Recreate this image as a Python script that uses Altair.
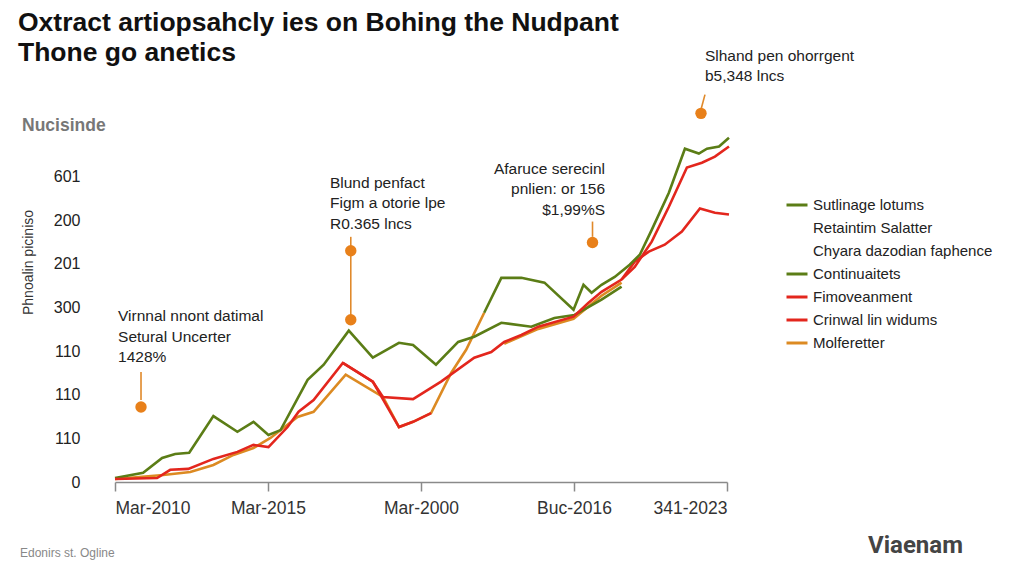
import altair as alt
import pandas as pd

# ---------------- data ----------------
series_names = ["Sutlinage lotums", "Retaintim Salatter", "Chyara dazodian faphence",
                "Continuaitets", "Fimoveanment", "Crinwal lin widums", "Molferetter"]
series_colors = ["#5b7d16", "transparent", "transparent", "#5b7d16", "#e3261d", "#e3261d", "#dc8a22"]

x_tick_labels = ["Mar-2010", "Mar-2015", "Mar-2000", "Buc-2016", "341-2023"]
y_tick_labels = ["0", "110", "110", "110", "300", "201", "200", "601"]

title_lines = ["Oxtract artiopsahcly ies on Bohing the Nudpant", "Thone go anetics"]

# Sutlinage lotums (green, early hump)
sut_t = [0, 1.84, 3.08, 3.93, 4.85, 6.43, 8.0, 9.05, 10.03, 10.82, 12.59, 13.64, 15.28, 16.85,
         18.56, 19.48, 20.98, 22.43, 23.48, 25.25, 27.21, 28.72, 30.03, 31.8, 33.11]
sut_v = [9, 21, 55, 64, 67, 151, 115, 138, 108, 119, 234, 269, 347, 285,
         319, 314, 269, 321, 333, 365, 356, 376, 383, 418, 448]

# Continuaitets (green, upper)
con_t = [24.13, 25.25, 26.56, 28.07, 29.97, 30.62, 31.15, 31.8, 32.66, 33.64, 34.3, 35.08,
         36.2, 37.25, 38.16, 38.69, 39.48, 40.13]
con_v = [388, 468, 468, 457, 395, 452, 434, 452, 470, 498, 521, 578,
         663, 764, 753, 764, 769, 789]

# Fimoveanment (red, main)
fim_t = [0, 2.75, 3.61, 4.79, 6.43, 8.0, 9.05, 10.03, 11.28, 12.0, 12.98, 14.89, 16.85, 17.51,
         19.48, 21.31, 23.48, 24.59, 25.44, 26.56, 27.67, 29.97, 30.95, 31.8, 33.11, 33.97,
         35.08, 36.2, 37.38, 38.36, 39.21, 40.13]
fim_v = [7, 9, 28, 30, 53, 69, 85, 80, 126, 161, 188, 273, 230, 195,
         190, 230, 285, 298, 321, 337, 356, 379, 411, 436, 464, 493,
         551, 631, 721, 732, 746, 769]

# Crinwal lin widums (red, dip + lower upper branch)
cri1_t = [14.89, 16.85, 18.56, 19.48, 20.66]
cri1_v = [273, 230, 126, 138, 158]
cri2_t = [33.11, 33.97, 34.89, 35.93, 37.05, 38.23, 39.21, 40.13]
cri2_v = [464, 505, 528, 544, 574, 627, 617, 613]

# Molferetter (orange)
mol1_t = [0, 3.15, 4.92, 6.43, 7.74, 9.05, 10.16, 11.93, 12.98, 15.08, 17.51, 18.56, 19.48,
          20.66, 21.97, 22.95, 24.13]
mol1_v = [7, 16, 23, 39, 62, 78, 101, 149, 161, 246, 195, 126, 138,
          158, 250, 303, 388]
mol2_t = [25.44, 27.67, 29.97, 31.8, 33.11]
mol2_v = [317, 351, 374, 427, 457]

# callouts (data units)
stem_t = [1.70, 15.41, 31.21, 38.56]
stem_t2 = [1.70, 15.41, 31.21, 38.3]
stem_v = [252, 562, 597, 888]
stem_v2 = [188, 372, 562, 854]
dot_t = [1.70, 15.41, 15.41, 31.21, 38.3]
dot_v = [172, 530, 372, 549, 845]

note_texts = ["Virnnal nnont datimal\nSetural Uncerter\n1428%",
              "Blund penfact\nFigm a otorie lpe\nR0.365 lncs",
              "Afaruce serecinl\npnlien: or 156\n$1,99%S",
              "Slhand pen ohorrgent\nb5,348 lncs"]
note_t = [0.2, 14.05, 32.03, 38.56]
note_v = [369, 675, 707, 966]
note_align = ["left", "left", "right", "left"]

# ---------------- build ----------------
W, H = 612, 349
FONT = "Liberation Sans"

segments = [
    ("mol2", "Molferetter", mol2_t, mol2_v),
    ("mol1", "Molferetter", mol1_t, mol1_v),
    ("sut", "Sutlinage lotums", sut_t, sut_v),
    ("fim", "Fimoveanment", fim_t, fim_v),
    ("cri1", "Crinwal lin widums", cri1_t, cri1_v),
    ("cri2", "Crinwal lin widums", cri2_t, cri2_v),
    ("con", "Continuaitets", con_t, con_v),
]
rows = []
for seg, name, ts, vs in segments:
    for i, (t, v) in enumerate(zip(ts, vs)):
        rows.append({"seg": seg, "series": name, "t": t, "v": v, "i": i})
lines_df = pd.DataFrame(rows)

xscale = alt.Scale(domain=[0, 40], nice=False, zero=False)
yscale = alt.Scale(domain=[0, 800], nice=False)

x_expr = "[" + ",".join("'%s'" % s for s in x_tick_labels) + "][round(datum.value/10)]"
y_expr = "[" + ",".join("'%s'" % s for s in y_tick_labels) + "][round(datum.value/100)]"

x_axis = alt.Axis(values=[0, 10, 20, 30, 40], labelExpr=x_expr, title=None, grid=False,
                  domainColor="#8a8a8a", domainWidth=1.5, tickColor="#8a8a8a", tickWidth=1.5,
                  tickSize=9, labelFontSize=17.5, labelColor="#333", labelFont=FONT, labelPadding=8)
y_axis = alt.Axis(values=[0, 100, 200, 300, 400, 500, 600, 700], labelExpr=y_expr,
                  title="Phnoalin piciniso", titleFontSize=14, titleFontWeight="normal",
                  titleColor="#333", titleFont=FONT, titleX=-80, titleY=129, titleAngle=270,
                  grid=False, domain=False, ticks=False, labelFontSize=16, labelColor="#222",
                  labelFont=FONT, labelPadding=35)

def X(field):
    return alt.X(field, scale=xscale, axis=x_axis)

def Y(field):
    return alt.Y(field, scale=yscale, axis=y_axis)

color_enc = alt.Color("series:N",
                      scale=alt.Scale(domain=series_names, range=series_colors),
                      legend=alt.Legend(title=None, orient="none", legendX=670, legendY=60,
                                        direction="vertical", symbolType="stroke",
                                        symbolStrokeWidth=3, symbolSize=441,
                                        labelFontSize=15, labelColor="#222", labelFont=FONT,
                                        labelLimit=400, rowPadding=3, labelOffset=4))

layers = []
for seg, name, _, _ in segments:
    layers.append(alt.Chart(lines_df).transform_filter(alt.datum.seg == seg)
                  .mark_line(strokeWidth=2.6)
                  .encode(x=X("t:Q"), y=Y("v:Q"), color=color_enc, order="i:Q"))

stem_df = pd.DataFrame({"t": stem_t, "t2": stem_t2, "v": stem_v, "v2": stem_v2})
stems = alt.Chart(stem_df).mark_rule(color="#e0892a", strokeWidth=1.6).encode(
    x=X("t:Q"), x2="t2:Q", y=Y("v:Q"), y2="v2:Q")

dot_df = pd.DataFrame({"t": dot_t, "v": dot_v})
dots = alt.Chart(dot_df).mark_circle(size=130, color="#e8801a", opacity=1).encode(
    x=X("t:Q"), y=Y("v:Q"))

note_layers = []
for txt, t, v, al in zip(note_texts, note_t, note_v, note_align):
    ndf = pd.DataFrame({"t": [t], "v": [v], "txt": [txt]})
    note_layers.append(
        alt.Chart(ndf).mark_text(align=al, baseline="alphabetic", fontSize=15.5, font=FONT,
                                 color="#222", lineBreak="\n", lineHeight=20.5)
        .encode(x=X("t:Q"), y=Y("v:Q"), text="txt:N"))

def label(text, x, y, size, color, weight="normal", font=FONT, align="left"):
    return alt.Chart(pd.DataFrame({"a": [0]})).mark_text(
        align=align, baseline="alphabetic", fontSize=size, font=font, color=color,
        fontWeight=weight, text=text).encode(x=alt.value(x), y=alt.value(y))

title1 = label(title_lines[0], -97, -102, 26.5, "#111", "bold", "Liberation Sans")
title2 = label(title_lines[1], -97, -72, 26.5, "#111", "bold", "Liberation Sans")
nucis = label("Nucisinde", -93, -2, 17.5, "#777", "bold")
foot1 = label("Edonirs st. Ogline", -95, 424, 12, "#888")
foot2 = label("Viaenam", 753, 420, 24, "#444", "bold", "Roboto")

chart = alt.layer(*layers, stems, dots, *note_layers, title1, title2, nucis, foot1, foot2).properties(
    width=W, height=H,
    padding={"left": 107, "top": 125, "right": 280, "bottom": 80},
    autosize=alt.AutoSizeParams(type="none"),
    background="white",
).configure_view(stroke=None)

chart.save("out.html", embed_options={"renderer": "svg", "actions": False})
